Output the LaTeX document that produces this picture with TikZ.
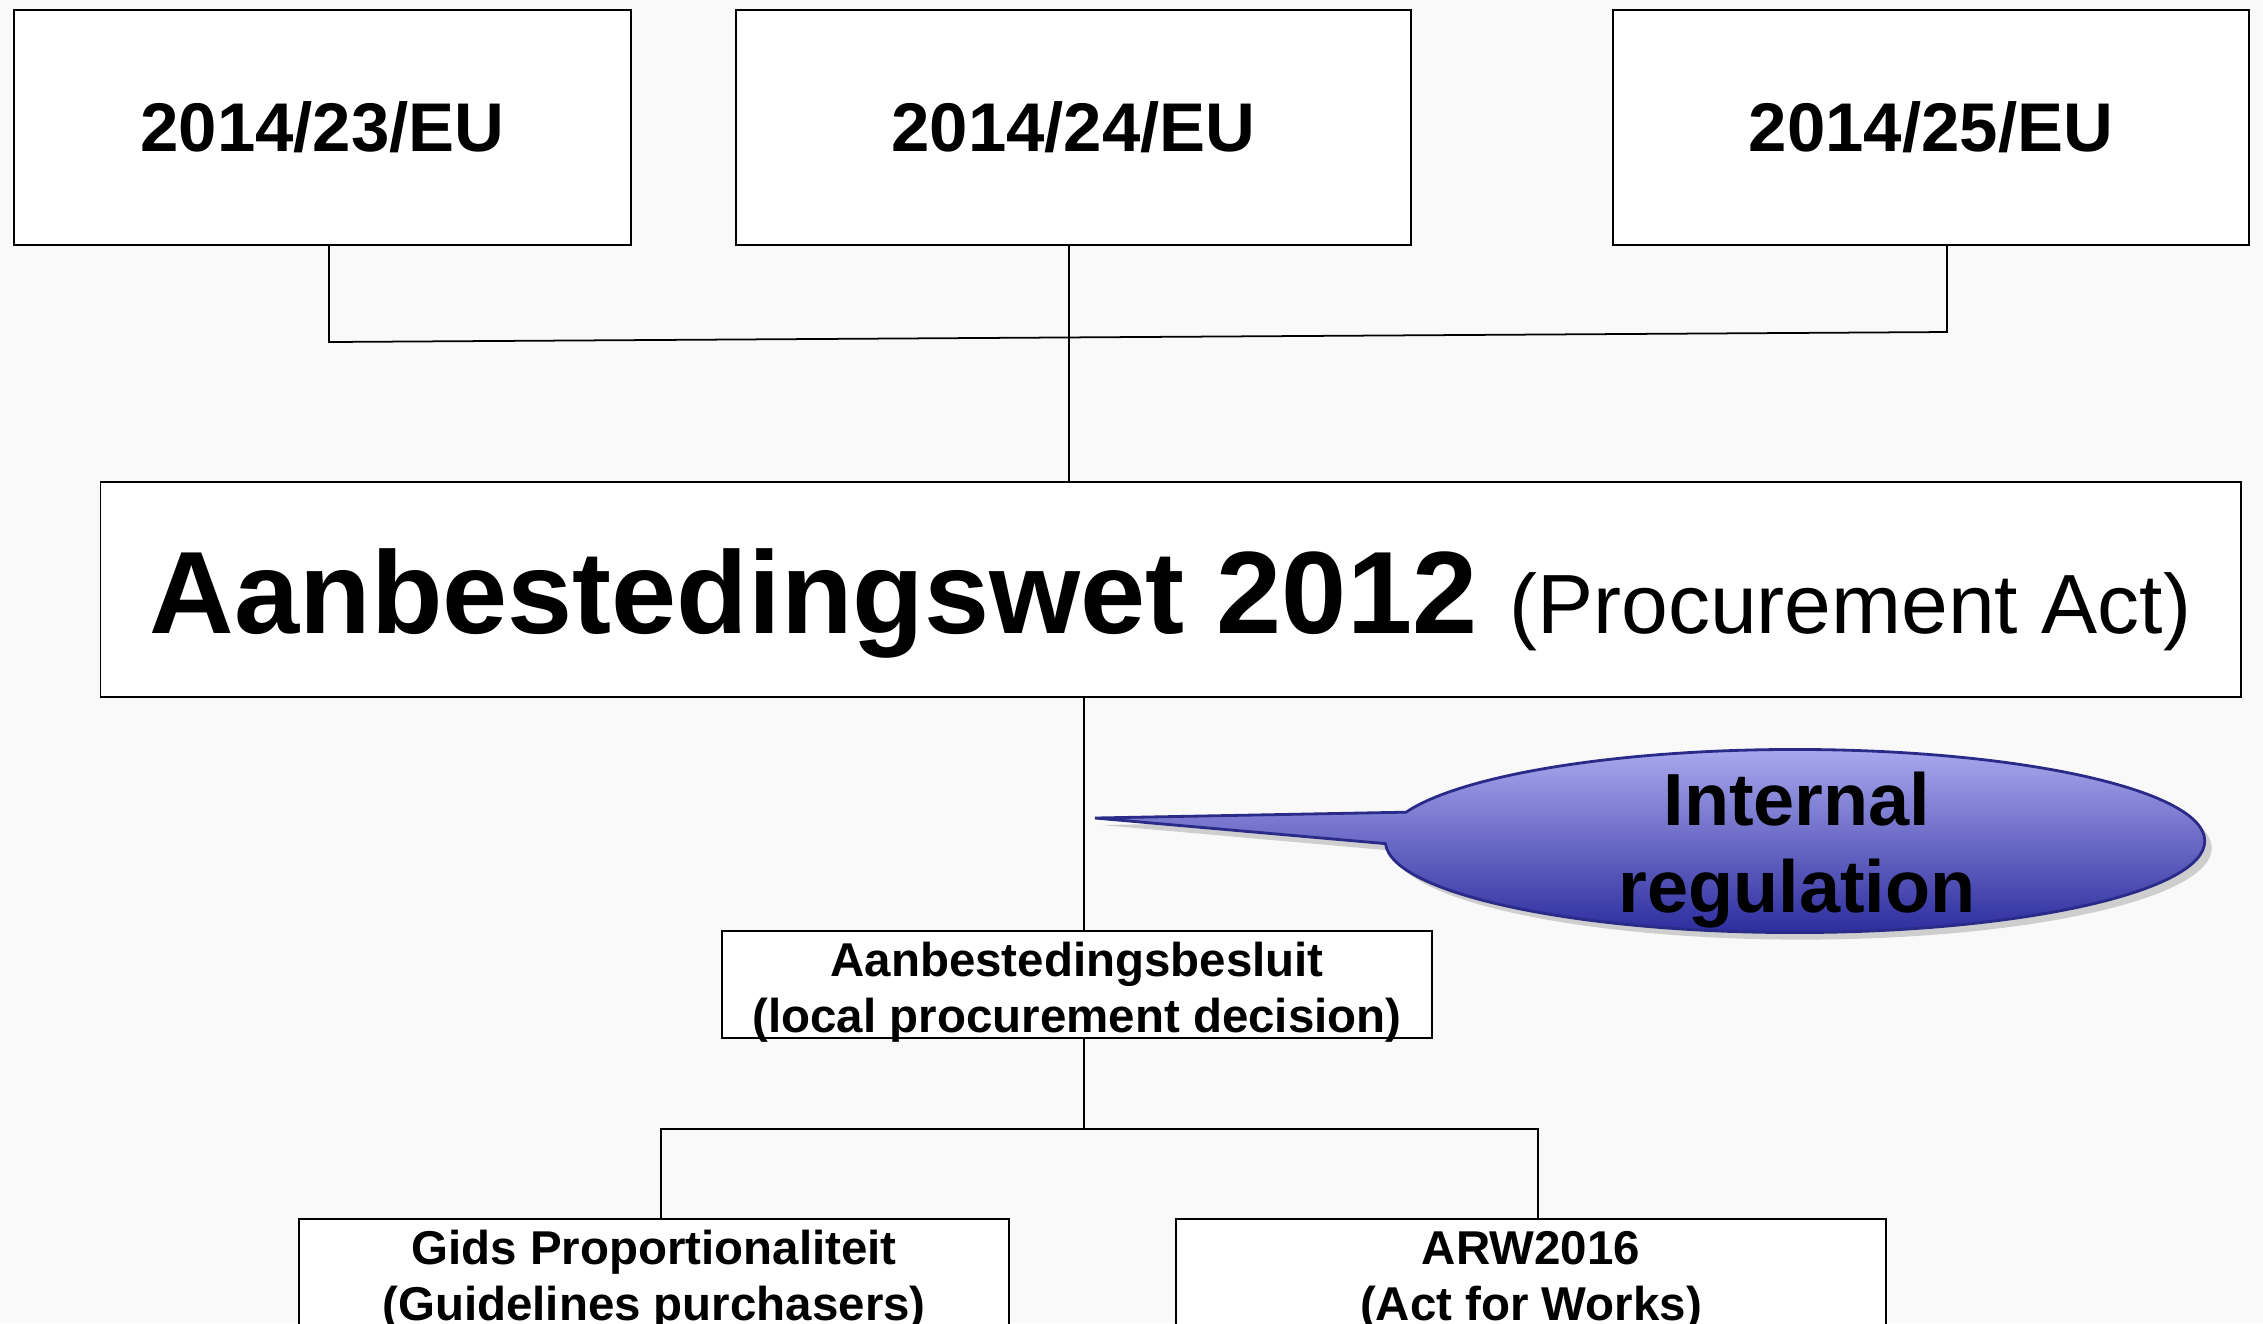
\documentclass[tikz,border=0pt]{standalone}
\usepackage{fontspec}
\setmainfont{Liberation Sans}
\usetikzlibrary{shapes.callouts,shadows}
\definecolor{bgc}{HTML}{F9F9F9}
\definecolor{bubbletop}{HTML}{A8A8EE}
\definecolor{bubblebot}{HTML}{2C2C9E}
\definecolor{bubbleline}{HTML}{2A2A88}
\newcommand{\topgap}{\rule{0pt}{12.8pt}}
\newcommand{\lowline}[1]{\raisebox{0pt}[\height][1.7pt]{#1}}

\begin{document}
\begin{tikzpicture}[x=0.01cm,y=-0.01cm,line width=0.5pt]
	\tikzstyle{eubox}   = [rectangle,draw,fill=white,inner sep=0pt,minimum height=2.35cm,font=\fontsize{19.6}{24}\selectfont\bfseries]
	\tikzstyle{lawbox}  = [rectangle,draw,fill=white,inner sep=0pt,minimum width=21.39cm,minimum height=2.15cm,text height=1.13cm,text depth=0.25cm]
	\tikzstyle{rulebox} = [rectangle,draw,fill=white,inner sep=0pt,align=center,minimum width=7.1cm,minimum height=1.07cm,font=\fontsize{13.5}{15.9}\selectfont\bfseries]
	\tikzstyle{bubble}  = [ellipse callout,draw=bubbleline,line width=0.8pt,top color=bubbletop,bottom color=bubblebot,inner sep=0pt,callout pointer arc=20,drop shadow={shadow xshift=2pt,shadow yshift=-2pt,opacity=0.35}]
	\tikzstyle{bubbletext} = [inner sep=0pt,align=center,font=\fontsize{21}{24.7}\selectfont\bfseries]

	\path[use as bounding box,clip] (0,0) rectangle (2263,1323);
	\fill[bgc] (0,0) rectangle (2263,1323);

	\node[eubox,minimum width=6.17cm] (eu23) at (322.5,127.5) {2014/23/EU};
	\node[eubox,minimum width=6.75cm] (eu24) at (1073.5,127.5) {2014/24/EU};
	\node[eubox,minimum width=6.36cm] (eu25) at (1931,127.5) {2014/25/EU};

	\node[lawbox] (wet) at (1170.5,589.5) {{\fontsize{33.3}{40}\selectfont\bfseries Aanbestedingswet 2012}\hspace{0.22cm} {\fontsize{23.9}{28}\selectfont(Procurement Act)}};

	\node[rulebox] (besluit) at (1077,984.5) {\topgap Aanbestedingsbesluit\\\lowline{(local procurement decision)}};
	\node[rulebox] (gids) at (654,1272.5) {\topgap Gids Proportionaliteit\\\lowline{(Guidelines purchasers)}};
	\node[rulebox] (arw) at (1531,1272.5) {\topgap ARW2016\\\lowline{(Act for Works)}};

	\coordinate (j23) at (329,342);
	\coordinate (j24) at (1069,337);
	\coordinate (j25) at (1947,332);
	\coordinate (jw) at (1084,1129);
	\coordinate (jg) at (661,1129);
	\coordinate (ja) at (1538,1129);
	\coordinate (tip) at (1095,818);

	\draw (eu23.south -| j23) -- (j23) -- (j25) -- (eu25.south -| j25);
	\draw (eu24.south -| j24) -- (j24 |- wet.north);
	\draw (wet.south -| jw) -- (besluit.north -| jw);
	\draw (besluit.south -| jw) -- (jw);
	\draw (gids.north -| jg) -- (jg) -- (ja) -- (arw.north -| ja);

	\node[bubble,minimum width=8.19cm,minimum height=1.83cm,callout absolute pointer=(tip)] (callout) at (1795,841) {};
	\node[bubbletext] (intreg) at (1797,850) {Internal\\regulation};
\end{tikzpicture}
\end{document}
